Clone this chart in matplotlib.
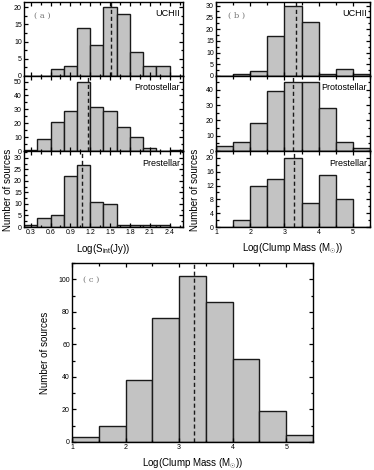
import numpy as np
import matplotlib
matplotlib.use("Agg")
import matplotlib.pyplot as plt
from matplotlib.ticker import MultipleLocator

plt.rcParams["font.family"] = ["Liberation Sans", "DejaVu Sans"]
plt.rcParams["mathtext.fontset"] = "custom"
plt.rcParams["mathtext.rm"] = "Liberation Sans"

# panel (a): log integrated flux, bins of 0.2 dex
edges_a = [0.2, 0.4, 0.6, 0.8, 1.0, 1.2, 1.4, 1.6, 1.8, 2.0, 2.2, 2.4]
uchii_a = [0, 0, 2, 3, 14, 9, 20, 18, 7, 3, 3, 0]
proto_a = [1, 9, 21, 29, 50, 32, 29, 17, 10, 2, 0, 1]
pre_a = [1, 4, 5, 22, 27, 11, 10, 1, 1, 1, 1, 0]
median_a = [1.52, 1.17, 1.08]

# panel (b): log clump mass, bins of 0.5 dex
edges_b = [1.0, 1.5, 2.0, 2.5, 3.0, 3.5, 4.0, 4.5, 5.0]
uchii_b = [0, 1, 2, 17, 30, 23, 1, 3, 1]
proto_b = [3, 6, 18, 39, 45, 45, 28, 6, 2]
pre_b = [0, 2, 12, 14, 20, 7, 15, 8, 0]
median_b = [3.34, 3.25, 3.28]

# panel (c): all clumps
all_c = [3, 10, 38, 76, 102, 86, 51, 19, 4]
median_c = 3.28

names = ["UCHII", "Protostellar", "Prestellar"]

fig = plt.figure(figsize=(3.74, 4.70), dpi=100)

W, H = 374.0, 470.0
def axbox(x0, y0, x1, y1):
    return [x0 / W, 1 - y1 / H, (x1 - x0) / W, (y1 - y0) / H]

tick_fs = 5
bar_kw = dict(align="edge", color="#c3c3c3", edgecolor="#1a1a1a", linewidth=1.0)


def style(ax, xmaj, xmin, ymaj, ymin, show_x):
    ax.xaxis.set_major_locator(MultipleLocator(xmaj))
    ax.xaxis.set_minor_locator(MultipleLocator(xmin))
    ax.yaxis.set_major_locator(MultipleLocator(ymaj))
    ax.yaxis.set_minor_locator(MultipleLocator(ymin))
    ax.tick_params(which="both", direction="in", top=True, right=True,
                   labelsize=tick_fs, pad=1.5, width=0.9)
    ax.tick_params(which="major", length=3)
    ax.tick_params(which="minor", length=1.8)
    if not show_x:
        ax.tick_params(labelbottom=False)
    for s in ax.spines.values():
        s.set_linewidth(1.0)


rows = [(2, 76), (76, 151), (151, 227)]

# panel (a)
a_data = [uchii_a, proto_a, pre_a]
a_ylim = [21.5, 54, 33]
a_ytick = [(5, 2.5), (10, 5), (5, 2.5)]
for i, (y0, y1) in enumerate(rows):
    ax = fig.add_axes(axbox(24, y0, 183, y1))
    ax.bar(edges_a, a_data[i], width=0.2, **bar_kw)
    ax.axvline(median_a[i], color="#1a1a1a", ls=(0, (3, 2)), lw=1.0)
    ax.set_xlim(0.2, 2.6)
    ax.set_ylim(0, a_ylim[i])
    style(ax, 0.3, 0.15, a_ytick[i][0], a_ytick[i][1], i == 2)
    ax.text(0.98, 0.9, names[i], transform=ax.transAxes, ha="right", va="top",
            fontsize=6.5)
    if i == 0:
        ax.text(0.06, 0.87, "( a )", transform=ax.transAxes, ha="left", va="top",
                fontsize=6, color="#777777", family="DejaVu Serif")
    if i == 2:
        ax.set_xlabel(r"Log(S$_{\rm int}$(Jy))", fontsize=7, labelpad=4)

# panel (b)
b_data = [uchii_b, proto_b, pre_b]
b_ylim = [31.5, 49, 22]
b_ytick = [(5, 2.5), (10, 5), (4, 2)]
for i, (y0, y1) in enumerate(rows):
    ax = fig.add_axes(axbox(216, y0, 370, y1))
    ax.bar(edges_b, b_data[i], width=0.5, **bar_kw)
    ax.axvline(median_b[i], color="#1a1a1a", ls=(0, (3, 2)), lw=1.0)
    ax.set_xlim(1, 5.5)
    ax.set_ylim(0, b_ylim[i])
    style(ax, 1, 0.5, b_ytick[i][0], b_ytick[i][1], i == 2)
    ax.text(0.98, 0.9, names[i], transform=ax.transAxes, ha="right", va="top",
            fontsize=6.5)
    if i == 0:
        ax.text(0.08, 0.87, "( b )", transform=ax.transAxes, ha="left", va="top",
                fontsize=6, color="#777777", family="DejaVu Serif")
    if i == 2:
        ax.set_xlabel(r"Log(Clump Mass (M$_{\odot}$))", fontsize=7, labelpad=4)

fig.text(8 / W, 1 - 190 / H, "Number of sources", rotation=90,
         ha="center", va="center", fontsize=7)
fig.text(195 / W, 1 - 190 / H, "Number of sources", rotation=90,
         ha="center", va="center", fontsize=7)

# panel (c)
ax = fig.add_axes(axbox(72, 263, 313, 442))
ax.bar(edges_b, all_c, width=0.5, **bar_kw)
ax.axvline(median_c, color="#1a1a1a", ls=(0, (3, 2)), lw=1.0)
ax.set_xlim(1, 5.5)
ax.set_ylim(0, 110)
style(ax, 1, 0.5, 20, 10, True)
ax.text(0.045, 0.93, "( c )", transform=ax.transAxes, ha="left", va="top",
        fontsize=6, color="#777777", family="DejaVu Serif")
ax.set_xlabel(r"Log(Clump Mass (M$_{\odot}$))", fontsize=7, labelpad=4)
ax.set_ylabel("Number of sources", fontsize=7, labelpad=6)

fig.savefig("out.png", dpi=100)
